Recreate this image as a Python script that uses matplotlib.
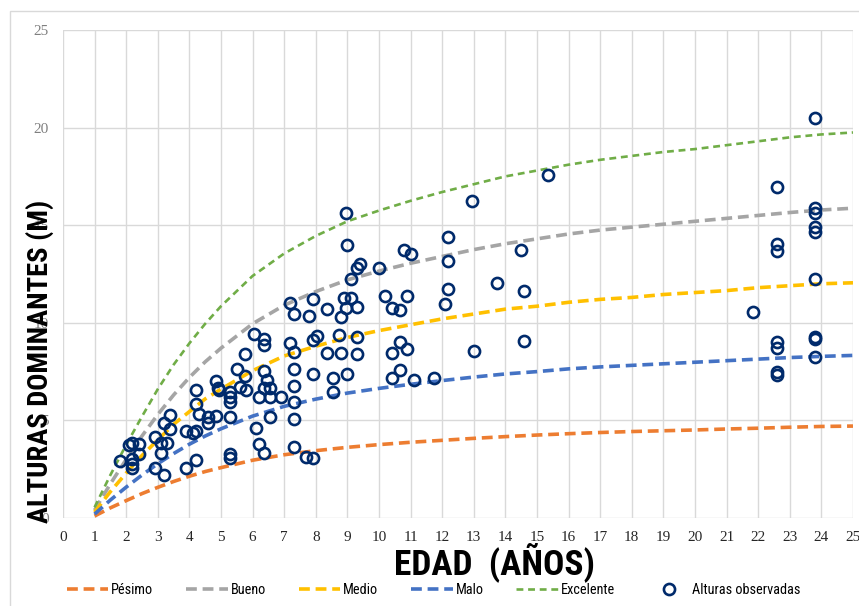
import matplotlib
matplotlib.use("Agg")
import matplotlib.pyplot as plt
from matplotlib.patches import Rectangle
from matplotlib import font_manager

# edad (años) used for the site index curves
edad = [1, 1.5, 2, 2.5, 3, 3.5, 4, 4.5, 5, 6, 7, 8, 9, 10, 11, 12, 13, 14, 15,
        16, 17, 18, 19, 20, 21, 22, 23, 24, 25]

excelente = [0.55, 2.2, 3.75, 5.2, 6.6, 7.85, 8.95, 9.95, 10.85, 12.4, 13.55, 14.45,
             15.2, 15.75, 16.25, 16.7, 17.1, 17.5, 17.8, 18.1, 18.35, 18.55, 18.75,
             18.9, 19.1, 19.3, 19.5, 19.65, 19.75]
bueno = [0.4, 1.75, 3.0, 4.2, 5.3, 6.3, 7.2, 8.0, 8.7, 9.95, 10.9, 11.6, 12.2, 12.65,
         13.05, 13.4, 13.75, 14.05, 14.3, 14.55, 14.75, 14.9, 15.05, 15.2, 15.35,
         15.5, 15.65, 15.78, 15.87]
medio = [0.3, 1.35, 2.3, 3.2, 4.0, 4.8, 5.45, 6.1, 6.6, 7.55, 8.3, 8.8, 9.25, 9.6,
         9.9, 10.2, 10.45, 10.7, 10.85, 11.05, 11.2, 11.3, 11.45, 11.55, 11.65, 11.8,
         11.9, 12.0, 12.05]
malo = [0.2, 0.92, 1.58, 2.2, 2.78, 3.3, 3.78, 4.2, 4.57, 5.22, 5.72, 6.09, 6.4, 6.64,
        6.85, 7.04, 7.22, 7.38, 7.5, 7.64, 7.74, 7.82, 7.9, 7.98, 8.06, 8.14, 8.22,
        8.28, 8.33]
pesimo = [0.1, 0.52, 0.89, 1.25, 1.57, 1.87, 2.14, 2.38, 2.58, 2.96, 3.24, 3.45, 3.62,
          3.76, 3.88, 3.98, 4.08, 4.17, 4.25, 4.32, 4.38, 4.43, 4.47, 4.51, 4.56, 4.6,
          4.65, 4.69, 4.71]

# alturas observadas
obs_x = [1.8, 2.1, 2.2, 2.4, 2.4, 2.2, 2.2, 2.2, 2.9, 2.9, 3.1, 3.1, 3.2, 3.2, 3.3,
         3.4, 3.4, 3.9, 3.9, 4.2, 4.2, 4.3, 4.2, 4.2, 4.1, 4.6, 4.6, 4.85, 4.85, 4.9,
         4.95, 5.3, 5.3, 5.3, 5.3, 5.3, 5.3, 5.5, 5.6, 5.75, 5.75, 5.8, 6.05, 6.1,
         6.2, 6.2, 6.35, 6.35, 6.35, 6.35, 6.35, 6.45, 6.55, 6.55, 6.55, 6.9, 7.2,
         7.3, 7.2, 7.3, 7.3, 7.3, 7.3, 7.3, 7.3, 7.7, 7.9, 7.9, 7.8, 7.9, 8.05, 7.9,
         8.35, 8.35, 8.55, 8.55, 8.75, 8.8, 8.8, 8.9, 8.95, 8.95, 9.0, 9.0, 9.1, 9.1,
         9.3, 9.4, 9.3, 9.3, 9.3, 10.0, 10.2, 10.4, 10.4, 10.4, 10.65, 10.9, 10.65,
         10.9, 10.65, 11.1, 11.75, 10.8, 11.0, 12.1, 12.2, 12.2, 12.2, 12.95, 13.0,
         13.75, 14.5, 14.6, 14.6, 15.35, 21.85, 22.6, 22.6, 22.6, 22.6, 22.6, 22.6,
         22.6, 23.8, 23.8, 23.8, 23.8, 23.8, 23.8, 23.8, 23.8, 23.8]
obs_y = [2.9, 3.75, 3.85, 3.8, 3.3, 3.0, 2.75, 2.55, 4.15, 2.55, 3.85, 3.35, 4.85, 2.2,
         3.85, 5.3, 4.55, 4.45, 2.55, 6.55, 5.85, 5.35, 4.45, 2.95, 4.35, 5.2, 4.85,
         5.25, 7.0, 6.65, 6.55, 6.45, 6.2, 5.95, 5.15, 3.3, 3.05, 7.65, 6.7, 8.4, 7.25,
         6.55, 9.45, 4.6, 6.2, 3.8, 9.15, 8.85, 7.55, 6.65, 3.35, 7.05, 6.65, 6.2, 5.2,
         6.2, 11.0, 10.45, 8.95, 8.5, 7.65, 6.75, 5.95, 5.05, 3.65, 3.15, 3.05, 11.2,
         10.35, 9.1, 9.3, 7.4, 10.7, 8.45, 7.15, 6.45, 9.4, 8.45, 10.3, 11.25, 10.75,
         15.65, 14.0, 7.4, 11.25, 12.25, 12.8, 13.0, 10.8, 9.25, 8.4, 12.8, 11.35,
         10.75, 8.45, 7.15, 10.65, 11.35, 9.0, 8.65, 7.6, 7.05, 7.15, 13.75, 13.55,
         10.95, 11.75, 13.15, 14.4, 16.25, 8.55, 12.05, 13.75, 11.65, 9.05, 17.55,
         10.55, 16.95, 14.05, 13.7, 9.0, 8.7, 7.5, 7.35, 20.5, 15.9, 15.65, 14.9,
         14.65, 12.25, 9.25, 9.15, 8.25]

x_ticks = list(range(0, 26))
y_ticks = [0, 5, 10, 15, 20, 25]

# narrowest installed sans for the Calibri-like labels
installed = {f.name for f in font_manager.fontManager.ttflist}
narrow = [f for f in ["Roboto Condensed", "Liberation Sans Narrow", "Roboto"] if f in installed]
narrow = narrow + ["DejaVu Sans"]

fig = plt.figure(figsize=(8.59, 6.06), dpi=100)
ax = fig.add_axes([0.0733, 0.1452, 0.9197, 0.8053])

ax.plot(edad, pesimo, color="#ED7D31", lw=2.6, ls=(0, (3, 1.6)), label="Pésimo", zorder=3)
ax.plot(edad, bueno, color="#A5A5A5", lw=2.6, ls=(0, (3, 1.6)), label="Bueno", zorder=3)
ax.plot(edad, medio, color="#FFC000", lw=2.6, ls=(0, (3, 1.6)), label="Medio", zorder=3)
ax.plot(edad, malo, color="#4472C4", lw=2.6, ls=(0, (3, 1.6)), label="Malo", zorder=3)
ax.plot(edad, excelente, color="#70AD47", lw=1.9, ls=(0, (2.6, 1.8)), label="Excelente", zorder=3)
ax.plot(obs_x, obs_y, ls="none", marker="o", ms=8, mfc="none", mec="#002A6B", mew=1.9,
        label="Alturas observadas", zorder=4)

ax.set_xlim(0, 25)
ax.set_ylim(0, 25)
ax.set_xticks(x_ticks)
ax.set_yticks(y_ticks)
ax.grid(True, color="#D9D9D9", lw=1)
ax.set_axisbelow(True)
for s in ax.spines.values():
    s.set_visible(False)
ax.tick_params(length=0)
ax.tick_params(axis="x", pad=9, labelsize=11, labelcolor="#262626")
ax.tick_params(axis="y", pad=10, labelsize=11, labelcolor="#7F7F7F")
for lab in ax.get_xticklabels() + ax.get_yticklabels():
    lab.set_family("Liberation Serif")

fig.text(0.0466, 0.403, "ALTURAS DOMINANTES (M)", rotation=90, ha="center", va="center",
         fontsize=20.5, fontweight="bold", family=narrow, fontstretch="condensed", color="#000000")
fig.text(0.576, 0.072, "EDAD  (AÑOS)", ha="center", va="center",
         fontsize=25.5, fontweight="bold", family=narrow, fontstretch="condensed", color="#000000")

leg = ax.legend(loc="center", bbox_to_anchor=(0.505, 0.026), bbox_transform=fig.transFigure,
                ncol=6, frameon=False, handlelength=2.9, columnspacing=2.3, handletextpad=0.2,
                prop={"family": narrow, "size": 10.3})

fig.patches.append(Rectangle((0.0116, -0.2), 1.5, 0.982 + 0.2, transform=fig.transFigure,
                             fill=False, ec="#D9D9D9", lw=1))

fig.savefig("out.png", dpi=100)
